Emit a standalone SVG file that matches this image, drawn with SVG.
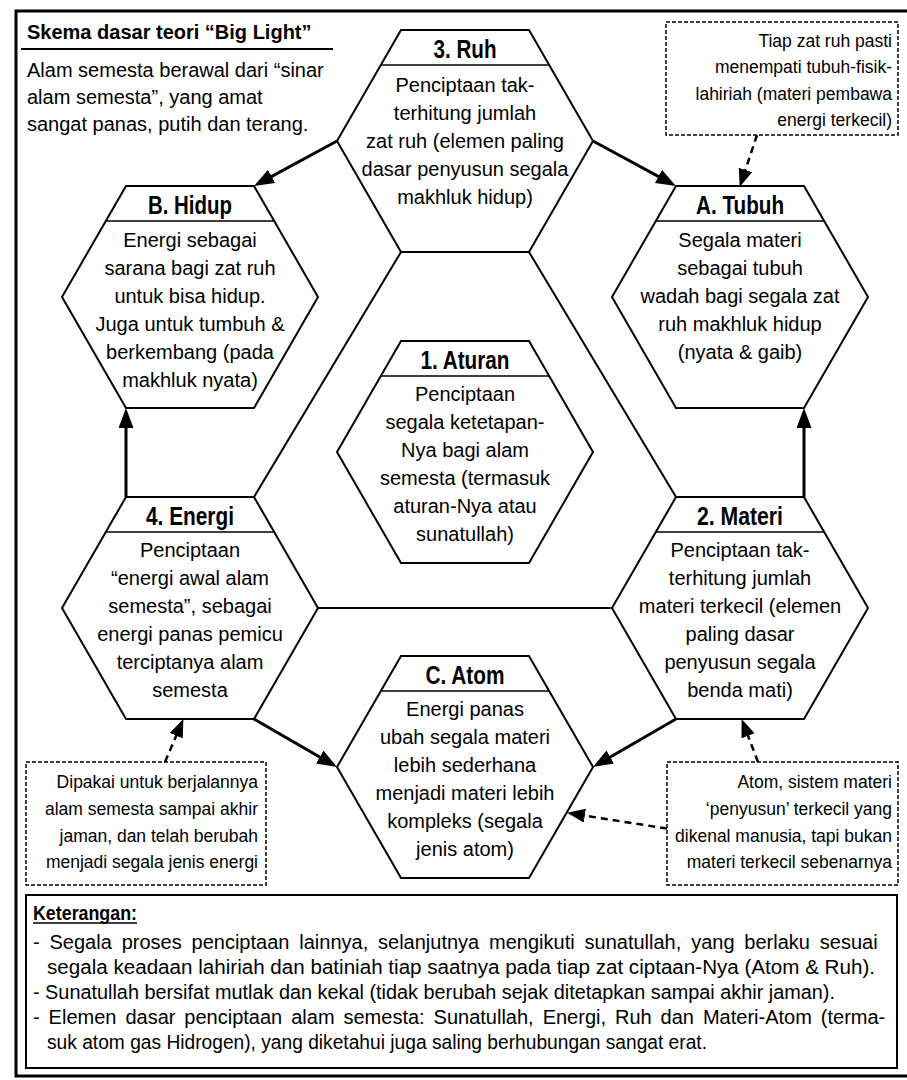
<svg xmlns="http://www.w3.org/2000/svg" width="907" height="1080" viewBox="0 0 907 1080">
  <style>
    text { font-family: "Liberation Sans", Arial, sans-serif; fill: #000; }
    .body { font-size: 20px; text-anchor: middle; }
    .head { font-family: "Liberation Sans Narrow", "Liberation Sans", Arial, sans-serif; font-size: 26px; font-weight: bold; text-anchor: middle; }
    .note { font-size: 17.5px; text-anchor: end; }
    .hex { fill: #fff; stroke: #000; stroke-width: 2; stroke-linejoin: miter; }
    .div { stroke: #000; stroke-width: 1.5; }
    .link { stroke: #000; stroke-width: 2; fill: none; }
    .arrow { stroke: #000; stroke-width: 3; fill: none; marker-end: url(#head); }
    .darrow { stroke: #000; stroke-width: 2.5; fill: none; stroke-dasharray: 7 5; marker-end: url(#dhead); }
    .box { fill: #fff; stroke: #000; stroke-width: 1.5; stroke-dasharray: 4 2; }
    .legend { font-size: 20px; }
  </style>
  <defs>
    <marker id="head" markerUnits="userSpaceOnUse" markerWidth="22" markerHeight="16" refX="15" refY="7.5" orient="auto">
      <path d="M0,0 L20,7.5 L0,15 Z" fill="#000"/>
    </marker>
    <marker id="dhead" markerUnits="userSpaceOnUse" markerWidth="20" markerHeight="16" refX="13" refY="7" orient="auto">
      <path d="M0,0 L18,7 L0,14 Z" fill="#000"/>
    </marker>
  </defs>

  <!-- outer frame -->
  <rect x="16" y="11" width="900" height="1065" fill="#fff" stroke="#000" stroke-width="3"/>

  <!-- title block -->
  <g id="title">
    <text x="27" y="39" font-size="20" font-weight="bold">Skema dasar teori “Big Light”</text>
    <line x1="21" y1="49" x2="333" y2="49" stroke="#000" stroke-width="2"/>
    <text x="27" y="77" font-size="20">Alam semesta berawal dari “sinar</text>
    <text x="27" y="104" font-size="20">alam semesta”, yang amat</text>
    <text x="27" y="131" font-size="20">sangat panas, putih dan terang.</text>
  </g>

  <!-- connectors -->
  <g id="connectors">
    <line class="link" x1="401" y1="252" x2="254" y2="497"/>
    <line class="link" x1="529" y1="252" x2="676" y2="497"/>
    <line class="link" x1="318" y1="608" x2="612" y2="608"/>
    <line class="arrow" x1="337" y1="141" x2="258.4" y2="183.6"/>
    <line class="arrow" x1="593" y1="141" x2="671.6" y2="183.6"/>
    <line class="arrow" x1="126" y1="497" x2="126" y2="413"/>
    <line class="arrow" x1="804" y1="497" x2="804" y2="413"/>
    <line class="arrow" x1="254" y1="719" x2="332.7" y2="764.5"/>
    <line class="arrow" x1="676" y1="719" x2="597.3" y2="764.5"/>
    <line class="darrow" x1="757" y1="135" x2="741.3" y2="182.2"/>
    <line class="darrow" x1="165" y1="762" x2="181.4" y2="723.7"/>
    <line class="darrow" x1="758" y1="762" x2="743.4" y2="723.7"/>
    <line class="darrow" x1="667" y1="828.6" x2="572" y2="813.6"/>
  </g>

  <!-- 3. Ruh -->
  <g id="ruh">
    <polygon class="hex" points="401,30 529,30 593,141 529,252 401,252 337,141"/>
    <line class="div" x1="380.8" y1="65" x2="549.2" y2="65"/>
    <text class="head" x="465" y="58" textLength="63" lengthAdjust="spacingAndGlyphs">3. Ruh</text>
    <text class="body" x="465" y="92">Penciptaan tak-</text>
    <text class="body" x="465" y="120">terhitung jumlah</text>
    <text class="body" x="465" y="148">zat ruh (elemen paling</text>
    <text class="body" x="465" y="176">dasar penyusun segala</text>
    <text class="body" x="465" y="204">makhluk hidup)</text>
  </g>

  <!-- B. Hidup -->
  <g id="hidup">
    <polygon class="hex" points="126,186 254,186 318,297 254,408 126,408 62,297"/>
    <line class="div" x1="105.8" y1="221" x2="274.2" y2="221"/>
    <text class="head" x="190" y="214" textLength="84" lengthAdjust="spacingAndGlyphs">B. Hidup</text>
    <text class="body" x="190" y="247">Energi sebagai</text>
    <text class="body" x="190" y="275">sarana bagi zat ruh</text>
    <text class="body" x="190" y="303">untuk bisa hidup.</text>
    <text class="body" x="190" y="331">Juga untuk tumbuh &amp;</text>
    <text class="body" x="190" y="359">berkembang (pada</text>
    <text class="body" x="190" y="387">makhluk nyata)</text>
  </g>

  <!-- A. Tubuh -->
  <g id="tubuh">
    <polygon class="hex" points="676,186 804,186 868,297 804,408 676,408 612,297"/>
    <line class="div" x1="655.8" y1="221" x2="824.2" y2="221"/>
    <text class="head" x="740" y="214" textLength="88" lengthAdjust="spacingAndGlyphs">A. Tubuh</text>
    <text class="body" x="740" y="247">Segala materi</text>
    <text class="body" x="740" y="275">sebagai tubuh</text>
    <text class="body" x="740" y="303">wadah bagi segala zat</text>
    <text class="body" x="740" y="331">ruh makhluk hidup</text>
    <text class="body" x="740" y="359">(nyata &amp; gaib)</text>
  </g>

  <!-- 1. Aturan -->
  <g id="aturan">
    <polygon class="hex" points="401,341 529,341 593,452 529,563 401,563 337,452"/>
    <line class="div" x1="380.8" y1="376" x2="549.2" y2="376"/>
    <text class="head" x="465" y="369" textLength="89" lengthAdjust="spacingAndGlyphs">1. Aturan</text>
    <text class="body" x="465" y="401">Penciptaan</text>
    <text class="body" x="465" y="429">segala ketetapan-</text>
    <text class="body" x="465" y="457">Nya bagi alam</text>
    <text class="body" x="465" y="485">semesta (termasuk</text>
    <text class="body" x="465" y="513">aturan-Nya atau</text>
    <text class="body" x="465" y="541">sunatullah)</text>
  </g>

  <!-- 4. Energi -->
  <g id="energi">
    <polygon class="hex" points="126,497 254,497 318,608 254,719 126,719 62,608"/>
    <line class="div" x1="105.8" y1="532" x2="274.2" y2="532"/>
    <text class="head" x="190" y="525" textLength="88" lengthAdjust="spacingAndGlyphs">4. Energi</text>
    <text class="body" x="190" y="557">Penciptaan</text>
    <text class="body" x="190" y="585">“energi awal alam</text>
    <text class="body" x="190" y="613">semesta”, sebagai</text>
    <text class="body" x="190" y="641">energi panas pemicu</text>
    <text class="body" x="190" y="669">terciptanya alam</text>
    <text class="body" x="190" y="697">semesta</text>
  </g>

  <!-- 2. Materi -->
  <g id="materi">
    <polygon class="hex" points="676,497 804,497 868,608 804,719 676,719 612,608"/>
    <line class="div" x1="655.8" y1="532" x2="824.2" y2="532"/>
    <text class="head" x="740" y="525" textLength="86" lengthAdjust="spacingAndGlyphs">2. Materi</text>
    <text class="body" x="740" y="557">Penciptaan tak-</text>
    <text class="body" x="740" y="585">terhitung jumlah</text>
    <text class="body" x="740" y="613">materi terkecil (elemen</text>
    <text class="body" x="740" y="641">paling dasar</text>
    <text class="body" x="740" y="669">penyusun segala</text>
    <text class="body" x="740" y="697">benda mati)</text>
  </g>

  <!-- C. Atom -->
  <g id="atom">
    <polygon class="hex" points="401,656 529,656 593,767 529,878 401,878 337,767"/>
    <line class="div" x1="380.8" y1="691" x2="549.2" y2="691"/>
    <text class="head" x="465" y="684" textLength="79" lengthAdjust="spacingAndGlyphs">C. Atom</text>
    <text class="body" x="465" y="716">Energi panas</text>
    <text class="body" x="465" y="744">ubah segala materi</text>
    <text class="body" x="465" y="772">lebih sederhana</text>
    <text class="body" x="465" y="800">menjadi materi lebih</text>
    <text class="body" x="465" y="828">kompleks (segala</text>
    <text class="body" x="465" y="856">jenis atom)</text>
  </g>

  <!-- side notes -->
  <g id="note-ruh">
    <rect class="box" x="666" y="22" width="232" height="113"/>
    <text class="note" x="892" y="47">Tiap zat ruh pasti</text>
    <text class="note" x="892" y="73">menempati tubuh-fisik-</text>
    <text class="note" x="892" y="100">lahiriah (materi pembawa</text>
    <text class="note" x="892" y="126">energi terkecil)</text>
  </g>
  <g id="note-energi">
    <rect class="box" x="26" y="762" width="240" height="123"/>
    <text class="note" x="258" y="788">Dipakai untuk berjalannya</text>
    <text class="note" x="258" y="815">alam semesta sampai akhir</text>
    <text class="note" x="258" y="842">jaman, dan telah berubah</text>
    <text class="note" x="258" y="868">menjadi segala jenis energi</text>
  </g>
  <g id="note-atom">
    <rect class="box" x="667" y="762" width="231" height="123"/>
    <text class="note" x="892" y="788">Atom, sistem materi</text>
    <text class="note" x="892" y="815">‘penyusun’ terkecil yang</text>
    <text class="note" x="892" y="842">dikenal manusia, tapi bukan</text>
    <text class="note" x="892" y="868">materi terkecil sebenarnya</text>
  </g>

  <!-- legend -->
  <g id="legend">
    <rect x="26" y="895" width="871" height="173" fill="#fff" stroke="#000" stroke-width="2"/>
    <text x="33" y="920" font-family="Liberation Sans Narrow, Liberation Sans, Arial, sans-serif" font-size="21" font-weight="bold" textLength="104" lengthAdjust="spacingAndGlyphs">Keterangan:</text>
    <line x1="33" y1="923" x2="137" y2="923" stroke="#000" stroke-width="1.5"/>
    <text class="legend" x="33" y="949" word-spacing="4.3">- Segala proses penciptaan lainnya, selanjutnya mengikuti sunatullah, yang berlaku sesuai</text>
    <text class="legend" x="47" y="974" textLength="828" lengthAdjust="spacingAndGlyphs">segala keadaan lahiriah dan batiniah tiap saatnya pada tiap zat ciptaan-Nya (Atom &amp; Ruh).</text>
    <text class="legend" x="33" y="999" textLength="802" lengthAdjust="spacingAndGlyphs">- Sunatullah bersifat mutlak dan kekal (tidak berubah sejak ditetapkan sampai akhir jaman).</text>
    <text class="legend" x="33" y="1024" word-spacing="3.4">- Elemen dasar penciptaan alam semesta: Sunatullah, Energi, Ruh dan Materi-Atom (terma-</text>
    <text class="legend" x="47" y="1049" textLength="660" lengthAdjust="spacingAndGlyphs">suk atom gas Hidrogen), yang diketahui juga saling berhubungan sangat erat.</text>
  </g>
</svg>
